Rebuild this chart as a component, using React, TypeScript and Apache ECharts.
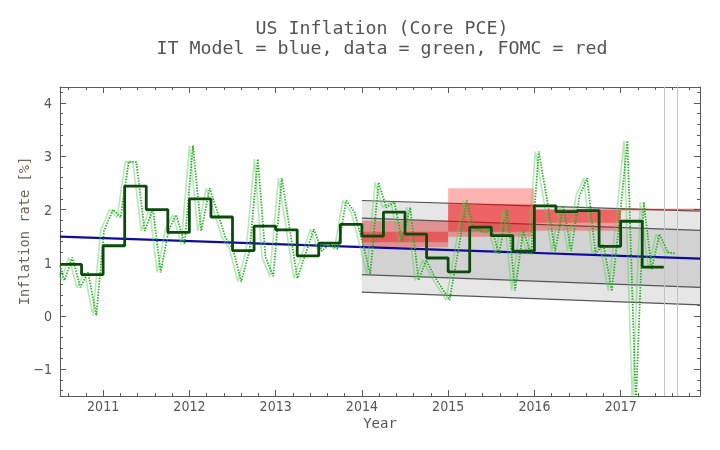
import React, { useEffect, useRef } from "react";
import * as echarts from "echarts";

// ---------- data ----------
const quarterStarts = [
  2010.5, 2010.75, 2011.0, 2011.25, 2011.5, 2011.75, 2012.0, 2012.25, 2012.5, 2012.75,
  2013.0, 2013.25, 2013.5, 2013.75, 2014.0, 2014.25, 2014.5, 2014.75, 2015.0, 2015.25,
  2015.5, 2015.75, 2016.0, 2016.25, 2016.5, 2016.75, 2017.0, 2017.25,
];
const quarterEnd = 2017.5;
const quarterValues = [
  0.97, 0.78, 1.32, 2.44, 2.0, 1.57, 2.2, 1.86, 1.23, 1.69,
  1.62, 1.13, 1.37, 1.72, 1.5, 1.95, 1.54, 1.09, 0.83, 1.67,
  1.51, 1.22, 2.07, 1.96, 1.98, 1.31, 1.78, 0.92,
];

const dataTimes = [
  2010.5, 2010.551, 2010.643, 2010.736, 2010.825, 2010.921, 2011.01, 2011.115, 2011.203, 2011.296,
  2011.385, 2011.481, 2011.578, 2011.667, 2011.76, 2011.848, 2011.945, 2012.041, 2012.138, 2012.235,
  2012.32, 2012.416, 2012.505, 2012.601, 2012.698, 2012.794, 2012.883, 2012.972, 2013.072, 2013.251,
  2013.443, 2013.536, 2013.625, 2013.721, 2013.818, 2013.915, 2014.004, 2014.097, 2014.193, 2014.282,
  2014.378, 2014.467, 2014.56, 2014.657, 2014.746, 2014.84, 2015.016, 2015.12, 2015.216, 2015.3,
  2015.38, 2015.44, 2015.5, 2015.59, 2015.684, 2015.776, 2015.87, 2015.962, 2016.051, 2016.148,
  2016.241, 2016.337, 2016.426, 2016.523, 2016.612, 2016.708, 2016.8, 2016.897, 2016.99, 2017.079,
  2017.176, 2017.268, 2017.36, 2017.45, 2017.546, 2017.643,
];
const dataValues = [
  0.95, 0.67, 1.1, 0.54, 0.82, 0.01, 1.6, 2.0, 1.85, 2.9,
  2.89, 1.6, 2.01, 0.82, 1.62, 1.9, 1.35, 3.2, 1.6, 2.4,
  1.98, 1.48, 1.26, 0.65, 1.23, 2.95, 1.1, 0.75, 2.59, 0.71,
  1.63, 1.22, 1.35, 1.26, 2.17, 1.95, 1.4, 0.79, 2.51, 2.04,
  2.14, 1.4, 2.04, 0.67, 1.05, 0.75, 0.3, 1.25, 2.17, 1.64,
  1.59, 1.57, 1.67, 1.16, 2.0, 0.48, 1.6, 1.16, 3.09, 2.17,
  1.22, 2.07, 1.22, 2.26, 2.59, 1.17, 1.35, 0.47, 1.85, 3.29,
  -1.65, 2.14, 0.88, 1.54, 1.2, 1.17,
];
const lightShift = 0.04;

const modelTimes = [2010.5, 2017.92];
const modelValues = [1.49, 1.08];

const bandTimes = [2014.0, 2017.92];
const outerUpper = [2.17, 1.97];
const innerUpper = [1.84, 1.61];
const innerLower = [0.78, 0.54];
const outerLower = [0.45, 0.21];

const fomcStarts = [2014, 2015, 2016, 2017];
const fomcEnds = [2015, 2016, 2017, 2017.92];
const fomcRangeLow = [1.29, 1.49, 1.6, 2.0];
const fomcRangeHigh = [1.79, 2.4, 2.0, 2.0];
const fomcCentralLow = [1.385, 1.585, 1.75, 2.0];
const fomcCentralHigh = [1.585, 2.1, 2.0, 2.0];

const guideTimes = [2017.5, 2017.66];

const xMin = 2010.5;
const xMax = 2017.92;
const yMin = -1.5;
const yMax = 4.3;

const titleLines = ["US Inflation (Core PCE)", "IT Model = blue, data = green, FOMC = red"];
const xName = "Year";
const yName = "Inflation rate [%]";

// ---------- styling ----------
const MONO = "'DejaVu Sans Mono', 'Liberation Mono', monospace";
const TICKFONT = "'DejaVu Sans Condensed', 'Liberation Sans Narrow', 'DejaVu Sans', sans-serif";
const FRAME = "#5a5a5a";
const TEXT = "#555555";

function axisCommon(showLabels: boolean) {
  return {
    type: "value" as const,
    axisLine: { show: true, onZero: false, lineStyle: { color: FRAME, width: 1 } },
    axisTick: { show: true, inside: true, length: 6, lineStyle: { color: FRAME, width: 1 } },
    minorTick: { show: true, splitNumber: 5, length: 3, lineStyle: { color: FRAME, width: 1 } },
    splitLine: { show: false },
    minorSplitLine: { show: false },
    minInterval: 1,
    maxInterval: 1,
    axisLabel: {
      show: showLabels,
      showMinLabel: false,
      showMaxLabel: false,
      color: TEXT,
      fontFamily: TICKFONT,
      fontSize: 14,
      formatter: (v: number) => (v < 0 ? "\u2212" + Math.abs(v) : String(v)),
    },
  };
}

export default function App() {
  const ref = useRef<HTMLDivElement>(null);

  useEffect(() => {
    if (!ref.current) return;
    const chart = echarts.init(ref.current, undefined, { renderer: "svg" });

    const bandData = [
      { value: [bandTimes[0], bandTimes[1], outerLower[0], outerUpper[0], outerLower[1], outerUpper[1]] },
      { value: [bandTimes[0], bandTimes[1], innerLower[0], innerUpper[0], innerLower[1], innerUpper[1]] },
    ];
    const bandFills = ["#e6e6e6", "#d2d2d2"];

    const rangeData = fomcStarts.map((s, i) => [s, fomcEnds[i], fomcRangeLow[i], fomcRangeHigh[i]]);
    const centralData = fomcStarts.map((s, i) => [s, fomcEnds[i], fomcCentralLow[i], fomcCentralHigh[i]]);

    const rectRenderer = (fill: string) => (params: any, api: any) => {
      const a = api.coord([api.value(0), api.value(3)]);
      const b = api.coord([api.value(1), api.value(2)]);
      let h = b[1] - a[1];
      let y = a[1];
      if (h < 1.5) {
        y = y - 0.75;
        h = 1.5;
      }
      return {
        type: "rect",
        shape: { x: a[0], y, width: b[0] - a[0], height: h },
        style: { fill },
      };
    };

    const stepData = quarterStarts.map((t, i) => [t, quarterValues[i]]);
    stepData.push([quarterEnd, quarterValues[quarterValues.length - 1]]);

    const bandLine = (vals: number[]) => ({
      type: "line",
      data: bandTimes.map((t, i) => [t, vals[i]]),
      showSymbol: false,
      silent: true,
      z: 3,
      lineStyle: { color: "#555555", width: 1.2 },
    });

    chart.setOption({
      animation: false,
      grid: { left: 60, right: 20, top: 87, bottom: 54, containLabel: false },
      xAxis: [
        { ...axisCommon(true), position: "bottom", min: xMin, max: xMax, axisLabel: { ...axisCommon(true).axisLabel, margin: 3 } },
        { ...axisCommon(false), position: "top", min: xMin, max: xMax },
      ],
      yAxis: [
        { ...axisCommon(true), position: "left", min: yMin, max: yMax, axisLabel: { ...axisCommon(true).axisLabel, margin: 8 } },
        { ...axisCommon(false), position: "right", min: yMin, max: yMax },
      ],
      graphic: [
        {
          type: "text",
          x: 382,
          y: 27,
          style: { text: titleLines[0], font: `18.3px ${MONO}`, fill: TEXT, textAlign: "center", textVerticalAlign: "middle" },
        },
        {
          type: "text",
          x: 382,
          y: 47,
          style: { text: titleLines[1], font: `18.3px ${MONO}`, fill: TEXT, textAlign: "center", textVerticalAlign: "middle" },
        },
        {
          type: "text",
          x: 380,
          y: 423,
          style: { text: xName, font: `14px ${MONO}`, fill: TEXT, textAlign: "center", textVerticalAlign: "middle" },
        },
        {
          type: "text",
          x: 24,
          y: 231,
          rotation: Math.PI / 2,
          style: { text: yName, font: `13.7px ${MONO}`, fill: "#6e6458", textAlign: "center", textVerticalAlign: "middle" },
        },
      ],
      series: [
        {
          type: "custom",
          silent: true,
          z: 1,
          encode: { x: [0, 1], y: [2, 3, 4, 5] },
          data: bandData,
          renderItem: (params: any, api: any) => {
            const t0 = api.value(0), t1 = api.value(1);
            const pts = [
              api.coord([t0, api.value(3)]),
              api.coord([t1, api.value(5)]),
              api.coord([t1, api.value(4)]),
              api.coord([t0, api.value(2)]),
            ];
            return { type: "polygon", shape: { points: pts }, style: { fill: bandFills[params.dataIndex] } };
          },
        },
        bandLine(outerUpper),
        bandLine(innerUpper),
        bandLine(innerLower),
        bandLine(outerLower),
        {
          type: "line",
          data: [],
          silent: true,
          z: 3,
          markLine: {
            silent: true,
            symbol: "none",
            label: { show: false },
            lineStyle: { color: "#c4c4c4", width: 1, type: "solid" },
            data: guideTimes.map((t) => ({ xAxis: t })),
          },
        },
        {
          type: "custom",
          silent: true,
          z: 4,
          encode: { x: [0, 1], y: [2, 3] },
          data: rangeData,
          renderItem: rectRenderer("rgba(255,0,0,0.3)"),
        },
        {
          type: "custom",
          silent: true,
          z: 4,
          encode: { x: [0, 1], y: [2, 3] },
          data: centralData,
          renderItem: rectRenderer("rgba(240,0,0,0.38)"),
        },
        {
          type: "line",
          data: modelTimes.map((t, i) => [t, modelValues[i]]),
          showSymbol: false,
          silent: true,
          z: 5,
          lineStyle: { color: "#0c0c9c", width: 2.2 },
        },
        {
          type: "line",
          data: dataTimes.map((t, i) => [t - lightShift, dataValues[i]]),
          showSymbol: false,
          silent: true,
          z: 6,
          lineStyle: { color: "rgba(90,205,90,0.45)", width: 1.6 },
        },
        {
          type: "line",
          data: dataTimes.map((t, i) => [t, dataValues[i]]),
          showSymbol: false,
          silent: true,
          z: 7,
          lineStyle: { color: "#22b022", width: 1.8, type: [1.4, 1.4] },
        },
        {
          type: "line",
          step: "end",
          data: stepData,
          showSymbol: false,
          silent: true,
          z: 8,
          lineStyle: { color: "#0b4a0b", width: 2.8 },
        },
      ],
    });

    return () => chart.dispose();
  }, []);

  return <div ref={ref} style={{ position: "fixed", left: 0, top: 0, width: 720, height: 450 }} />;
}
